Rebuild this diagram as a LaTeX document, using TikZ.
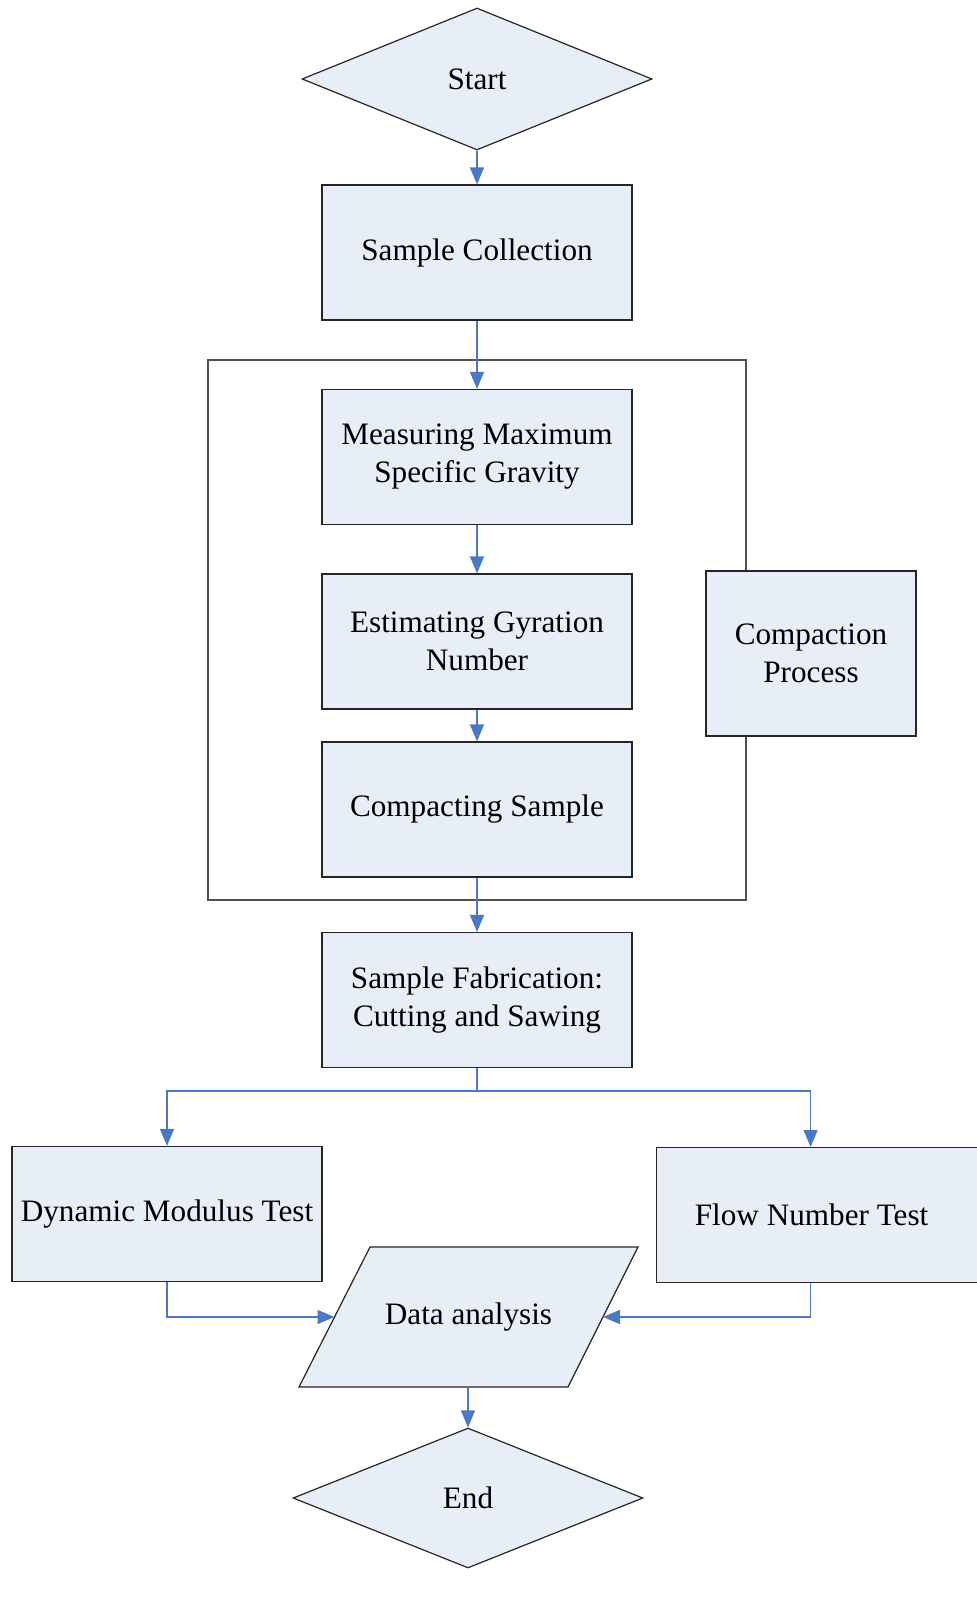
\documentclass[tikz,border=0pt]{standalone}
\usepackage{fontspec}
\setmainfont{Liberation Serif}
\usetikzlibrary{shapes.geometric,arrows.meta,calc}
\definecolor{boxfill}{RGB}{232,238,248}
\definecolor{conncol}{RGB}{74,120,196}
\definecolor{framecol}{RGB}{80,80,80}
\begin{document}
\begin{tikzpicture}[x=0.5pt,y=-0.5pt,
  every node/.style={font=\fontsize{15.6pt}{19pt}\selectfont, text=black},
  box/.style={rectangle, draw=black!85, line width=0.6pt, fill=boxfill, align=center, inner sep=0pt, minimum width=155pt, minimum height=67.5pt},
  dia/.style={diamond, draw=black!85, line width=0.6pt, fill=boxfill, inner sep=0pt, minimum width=175pt, minimum height=71pt},
  conn/.style={draw=conncol, line width=0.7pt, -{Triangle[length=8.5pt,width=7pt]}},
  line/.style={draw=conncol, line width=0.7pt}
]
\useasboundingbox (0,0) rectangle (977,1600);
\clip (0,0) rectangle (977,1600);
% frame
\draw[framecol, line width=0.7pt] (208,360) rectangle (746,900);
\node[dia] (start) at (477,79) {Start};
\node[box] (coll) at (477,252.5) {Sample Collection};
\node[box] (meas) at (477,457) {Measuring Maximum\\Specific Gravity};
\node[box] (est) at (477,641.5) {Estimating Gyration\\Number};
\node[box] (comp) at (477,809.5) {Compacting Sample};
\node[box, minimum width=105pt, minimum height=82.5pt] (cp) at (811,653.5) {Compaction\\Process};
\node[box] (fab) at (477,1000) {Sample Fabrication:\\Cutting and Sawing};
\node[box] (dyn) at (167,1214) {Dynamic Modulus Test};
\node[box, overlay, minimum width=170pt, anchor=north west] (flow) at (656,1147) {Flow Number Test\hspace*{15pt}};
% data analysis parallelogram
\coordinate (dTL) at (370,1247);
\coordinate (dTR) at (638,1247);
\coordinate (dBR) at (568,1387);
\coordinate (dBL) at (299,1387);
\draw[draw=black!85, line width=0.6pt, fill=boxfill] (dTL) -- (dTR) -- (dBR) -- (dBL) -- cycle;
\node (data) at (468.5,1317) {Data analysis};
\coordinate (dataL) at (334.5,1317);
\coordinate (dataR) at (603,1317);
\coordinate (dataS) at (468,1387);
\node[dia, minimum height=70pt] (end) at (468,1498) {End};
% connectors
\draw[conn] (start.south) -- (coll.north);
\draw[conn] (coll.south) -- (meas.north);
\draw[conn] (meas.south) -- (est.north);
\draw[conn] (est.south) -- (comp.north);
\draw[conn] (comp.south) -- (fab.north);
\draw[line] (fab.south) -- ++(0,23) coordinate (br);
\draw[conn] (br) -| (dyn.north);
\draw[conn] (br) -| ([xshift=-8pt]flow.north);
\draw[conn] (dyn.south) |- (dataL);
\draw[conn] ([xshift=-8pt]flow.south) |- (dataR);
\draw[conn] (dataS) -- (end.north);
\end{tikzpicture}
\end{document}
